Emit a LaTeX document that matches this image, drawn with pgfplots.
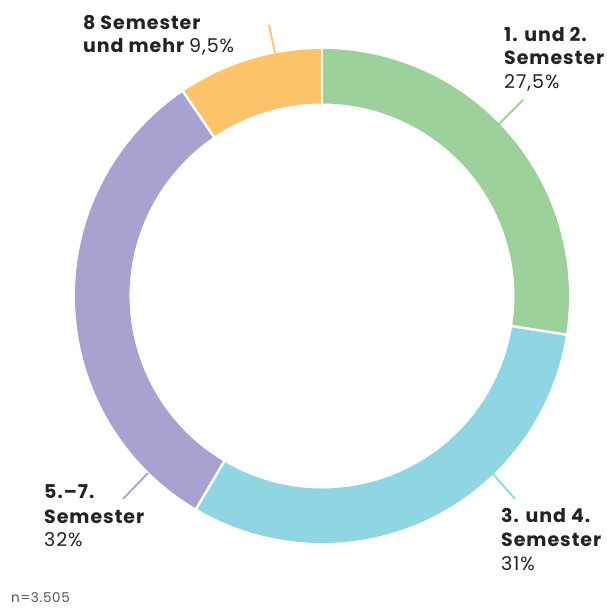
\documentclass[border=0pt]{standalone}
\usepackage{pgfplots}
\pgfplotsset{compat=1.18}
\usepackage{fontspec}
\setmainfont{Poppins}[LetterSpace=5]
\definecolor{cgreen}{HTML}{9DD19B}
\definecolor{ccyan}{HTML}{8FD6E2}
\definecolor{cpurple}{HTML}{A8A2D0}
\definecolor{corange}{HTML}{FEC46C}
\definecolor{ctext}{HTML}{222222}
\definecolor{cgray}{HTML}{555555}
% values (percent): 27.5, 31, 32, 9.5 ; cumulative: 0, 27.5, 58.5, 90.5, 100
\begin{document}
\begin{tikzpicture}
\begin{axis}[
  width=606pt, height=609pt, scale only axis,
  xmin=0, xmax=606, ymin=0, ymax=609,
  axis lines=none, clip=false,
]
\path (axis cs:0,0) rectangle (axis cs:606,609);
% donut ring (centre 322,313; mid radius 219.75pt; ring width 54.5pt)
\draw[cgreen, line width=54.5pt] ([shift={(90:219.75pt)}]axis cs:322,313)
  arc[start angle=90, end angle={90-3.6*27.5}, radius=219.75pt];
\draw[ccyan, line width=54.5pt] ([shift={({90-3.6*27.5}:219.75pt)}]axis cs:322,313)
  arc[start angle={90-3.6*27.5}, end angle={90-3.6*58.5}, radius=219.75pt];
\draw[cpurple, line width=54.5pt] ([shift={({90-3.6*58.5}:219.75pt)}]axis cs:322,313)
  arc[start angle={90-3.6*58.5}, end angle={90-3.6*90.5}, radius=219.75pt];
\draw[corange, line width=54.5pt] ([shift={({90-3.6*90.5}:219.75pt)}]axis cs:322,313)
  arc[start angle={90-3.6*90.5}, end angle={90-3.6*100}, radius=219.75pt];
% white separators
\draw[white, line width=2.5pt] ([shift={(90:188pt)}]axis cs:322,313) -- ([shift={(90:252pt)}]axis cs:322,313);
\draw[white, line width=2.5pt] ([shift={({90-3.6*27.5}:188pt)}]axis cs:322,313) -- ([shift={({90-3.6*27.5}:252pt)}]axis cs:322,313);
\draw[white, line width=2.5pt] ([shift={({90-3.6*58.5}:188pt)}]axis cs:322,313) -- ([shift={({90-3.6*58.5}:252pt)}]axis cs:322,313);
\draw[white, line width=2.5pt] ([shift={({90-3.6*90.5}:188pt)}]axis cs:322,313) -- ([shift={({90-3.6*90.5}:252pt)}]axis cs:322,313);
% leader lines
\addplot[cgreen, line width=1.8pt, no marks] coordinates {(498,484) (523,509)};
\addplot[corange, line width=1.8pt, no marks] coordinates {(275,556) (269,584)};
\addplot[cpurple, line width=1.8pt, no marks] coordinates {(148,136) (123,110)};
\addplot[ccyan, line width=1.8pt, no marks] coordinates {(492,136) (515,110)};
% labels
\tikzset{lb/.style={anchor=base west, inner sep=0pt, text=ctext, font=\fontsize{19}{22}\selectfont\bfseries},
         lr/.style={anchor=base west, inner sep=0pt, text=ctext, font=\fontsize{19}{22}\selectfont}}
\node[lb] at (axis cs:504,567) {1. und 2.};
\node[lb] at (axis cs:504,544) {Semester};
\node[lr] at (axis cs:504,520) {27,5\%};
\node[lb] at (axis cs:83,579) {8 Semester};
\node[lb] at (axis cs:83,556) {und mehr \mdseries 9,5\%};
\node[lb] at (axis cs:44,110) {5.--7.};
\node[lb] at (axis cs:44,85) {Semester};
\node[lr] at (axis cs:44,62) {32\%};
\node[lb] at (axis cs:501,86) {3. und 4.};
\node[lb] at (axis cs:501,62) {Semester};
\node[lr] at (axis cs:501,38) {31\%};
\node[anchor=base west, inner sep=0pt, text=cgray, font=\fontsize{13.5}{15}\selectfont] at (axis cs:11,6) {n=3.505};
\end{axis}
\end{tikzpicture}
\end{document}
